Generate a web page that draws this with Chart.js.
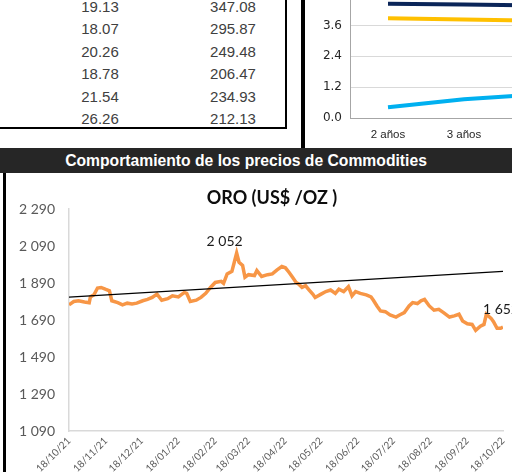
<!DOCTYPE html>
<html>
<head>
<meta charset="utf-8">
<script src="https://cdn.jsdelivr.net/npm/chart.js@4.4.0/dist/chart.umd.min.js"></script>
<style>
html,body{margin:0;padding:0;background:#fff;}
body{width:512px;height:472px;overflow:hidden;position:relative;font-family:"Liberation Sans",Arial,sans-serif;}
#tabla{position:absolute;left:0;top:0;width:285px;height:127px;border-right:2px solid #000;border-bottom:2px solid #000;}
.fila{position:absolute;left:0;width:285px;height:20px;line-height:20px;font-size:15px;color:#404040;}
.fila span{position:absolute;top:0;width:90px;text-align:center;}
#sep{position:absolute;left:301px;top:0;width:4px;height:148px;background:#000;}
#barra{position:absolute;left:0;top:148px;width:512px;height:25px;line-height:25px;background:#262626;color:#fff;
  font-weight:bold;font-size:15.7px;text-align:center;text-indent:-20px;}
#borde{position:absolute;left:3px;top:173px;width:3px;height:300px;background:#000;}
#curvaBox{position:absolute;left:306px;top:-30px;}
#oroBox{position:absolute;left:6px;top:173px;}
</style>
</head>
<body>
<div id="tabla"></div>
<div id="sep"></div>
<div id="curvaBox"><canvas id="curva" width="440" height="175"></canvas></div>
<div id="barra">Comportamiento de los precios de Commodities</div>
<div id="borde"></div>
<div id="oroBox"><canvas id="oro" width="542" height="300"></canvas></div>
<script>
// tabla (parte visible)
var colA = ['19.13','18.07','20.26','18.78','21.54','26.26'];
var colB = ['347.08','295.87','249.48','206.47','234.93','212.13'];

// curva de rendimientos
var plazos = ['2 años','3 años','5 años','10 años','30 años'];
var curvaAzul = [4.44, 4.41, 4.37, 4.22, 4.30];
var curvaAmarilla = [3.88, 3.83, 3.78, 3.70, 3.85];
var curvaCeleste = [0.42, 0.73, 0.92, 1.35, 1.80];

// oro: dias desde 18/10/21 y precio
var dias = [0,4,8,13,17,18,21,24,27,31,34,36,41,45,49,53,57,62,66,70,74,78,83,87,92,97,99,102,107,111,115,119,123,128,130,133,137,139,141,143,146,148,151,156,158,162,167,171,175,179,182,185,188,191,193,196,199,202,205,207,212,216,220,224,227,231,235,238,241,245,250,254,256,259,262,266,270,275,278,282,286,289,293,296,299,303,307,311,315,320,324,328,331,335,339,342,346,349,351,355,357,360,363,365];
var oro = [1772,1790,1794,1787,1783,1815,1826,1863,1866,1855,1848,1794,1784,1772,1781,1777,1781,1794,1801,1812,1830,1797,1805,1821,1815,1839,1834,1790,1797,1812,1834,1866,1893,1899,1888,1939,1953,2002,2052,2002,1985,1921,1935,1930,1957,1925,1935,1939,1961,1979,1972,1948,1921,1893,1885,1866,1875,1852,1830,1812,1830,1844,1852,1834,1857,1844,1870,1821,1844,1834,1826,1815,1797,1766,1739,1735,1717,1706,1717,1730,1766,1784,1779,1794,1801,1766,1743,1748,1730,1706,1712,1721,1685,1670,1666,1634,1657,1666,1721,1699,1681,1645,1645,1652];
var tendencia = [1814, 1953];
var fechasEje = ['18/10/21','18/11/21','18/12/21','18/01/22','18/02/22','18/03/22','18/04/22','18/05/22','18/06/22','18/07/22','18/08/22','18/09/22','18/10/22'];

var tabla = document.getElementById('tabla');
for (var i = 0; i < colA.length; i++) {
	var f = document.createElement('div');
	f.className = 'fila';
	f.style.top = (-3.5 + i * 22.5) + 'px';
	f.innerHTML = '<span style="left:55px">' + colA[i] + '</span><span style="left:188px">' + colB[i] + '</span>';
	tabla.appendChild(f);
}

function aDia(s) {
	var p = s.split('/');
	var t = Date.UTC(2000 + parseInt(p[2], 10), parseInt(p[1], 10) - 1, parseInt(p[0], 10));
	return Math.round((t - Date.UTC(2021, 9, 18)) / 86400000);
}
var diasEje = fechasEje.map(aDia);

function miles(v) {
	return String(v).replace(/\B(?=(\d{3})+(?!\d))/g, ' ');
}

new Chart(document.getElementById('curva'), {
	type: 'line',
	data: {
		labels: plazos,
		datasets: [
			{data: curvaAzul, borderColor: '#0B2559', borderWidth: 4, pointRadius: 0},
			{data: curvaAmarilla, borderColor: '#FFC000', borderWidth: 4, pointRadius: 0},
			{data: curvaCeleste, borderColor: '#00B0F0', borderWidth: 4, pointRadius: 0}
		]
	},
	options: {
		responsive: false,
		animation: false,
		layout: {padding: {top: 24.5, right: 16, left: 0, bottom: 0}},
		plugins: {legend: {display: false}, tooltip: {enabled: false}},
		scales: {
			x: {
				offset: true,
				grid: {display: false, drawTicks: false},
				border: {color: '#A6A6A6', width: 1},
				ticks: {color: '#262626', font: {family: 'Liberation Sans', size: 11.5}, padding: 10},
				afterFit: function(s){ s.height = 27; }
			},
			y: {
				min: 0, max: 4.8,
				ticks: {stepSize: 1.2, color: '#262626', font: {family: 'DejaVu Sans', size: 12}, padding: 8,
					callback: function(v){ return v.toFixed(1); }},
				grid: {color: '#D9D9D9', drawTicks: false},
				border: {color: '#A6A6A6', width: 1},
				afterFit: function(s){ s.width = 44; }
			}
		}
	}
});

var etiquetasOro = {
	id: 'etiquetasOro',
	afterDatasetsDraw: function(chart) {
		var meta = chart.getDatasetMeta(1);
		var iMax = oro.indexOf(Math.max.apply(null, oro));
		var iFin = oro.length - 1;
		var ctx = chart.ctx;
		ctx.save();
		ctx.font = '14px Lato';
		ctx.fillStyle = '#1a1a1a';
		ctx.textAlign = 'center';
		ctx.textBaseline = 'middle';
		ctx.fillText(miles(oro[iMax]), meta.data[iMax].x - 12, meta.data[iMax].y - 12);
		ctx.fillText(miles(oro[iFin]), meta.data[iFin].x - 2, meta.data[iFin].y - 18);
		ctx.restore();
	}
};

new Chart(document.getElementById('oro'), {
	type: 'line',
	data: {
		datasets: [
			{data: [{x: 0, y: tendencia[0]}, {x: 365, y: tendencia[1]}], borderColor: '#000', borderWidth: 1.3, pointRadius: 0},
			{data: dias.map(function(d, i){ return {x: d, y: oro[i]}; }), borderColor: '#F79646', borderWidth: 3.5, pointRadius: 0}
		]
	},
	options: {
		responsive: false,
		animation: false,
		layout: {padding: {left: 0, right: 10, top: 0, bottom: 0}},
		plugins: {
			legend: {display: false},
			tooltip: {enabled: false},
			title: {display: true, text: 'ORO (US$ /OZ )', color: '#0d0d0d',
				font: {family: 'Lato', size: 18, weight: 'bold'}, padding: {top: 14, bottom: 0.4}}
		},
		scales: {
			x: {
				type: 'linear', min: 0, max: 365,
				afterBuildTicks: function(s){ s.ticks = diasEje.map(function(v){ return {value: v}; }); },
				ticks: {minRotation: 45, maxRotation: 45, autoSkip: false, color: '#595959',
					font: {family: 'Lato', size: 10}, padding: 4,
					callback: function(v, i){ return fechasEje[i]; }},
				grid: {display: false, drawTicks: false},
				border: {color: '#D9D9D9', width: 1.5},
				afterFit: function(s){ s.height = 42; }
			},
			y: {
				min: 1090, max: 2290,
				ticks: {stepSize: 200, color: '#595959', font: {family: 'Lato', size: 14}, padding: 14,
					callback: function(v){ return miles(v); }},
				grid: {display: false, drawTicks: false},
				border: {color: '#D9D9D9', width: 1.5},
				afterFit: function(s){ s.width = 63; }
			},
			derecha: {
				position: 'right',
				ticks: {display: false},
				grid: {display: false, drawTicks: false},
				border: {display: false},
				afterFit: function(s){ s.width = 35; }
			}
		}
	},
	plugins: [etiquetasOro]
});
</script>
</body>
</html>
